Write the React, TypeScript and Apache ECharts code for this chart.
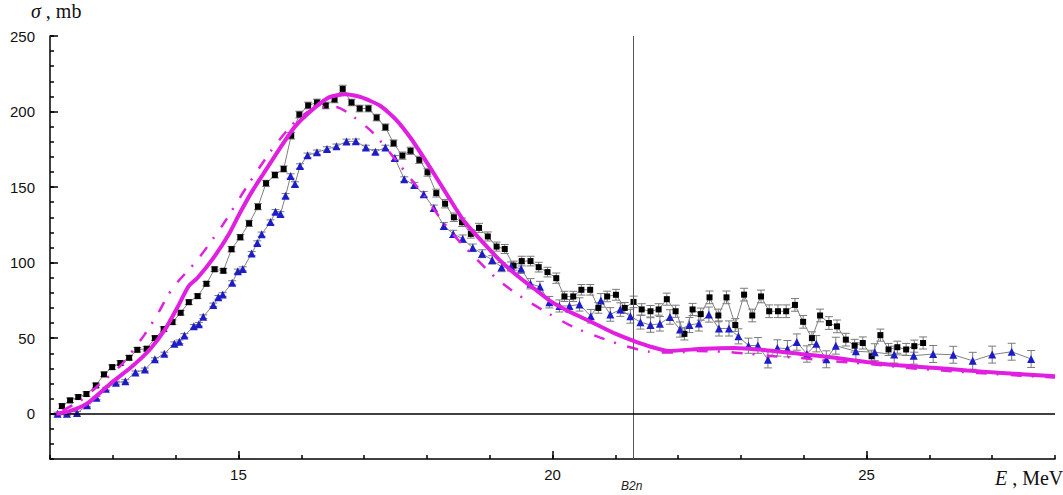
import React, { useEffect, useRef } from "react";
import * as echarts from "echarts";

// x tick labels (MeV) and y tick labels (mb)
const xTickLabels = [15, 20, 25];
const yTickLabels = [0, 50, 100, 150, 200, 250];
const B2N_ENERGY = 21.28;

// Black squares: [E (MeV), sigma (mb), error (mb)]
const blackSquares: [number, number, number][] = [
  [12.19, 5.0, 1.5], [12.32, 8.8, 1.5], [12.45, 11, 1.5], [12.58, 13, 1.5], [12.73, 18.7, 1.5],
  [12.86, 26, 1.5], [12.99, 30.8, 1.5], [13.12, 33.5, 1.5], [13.26, 37, 1.5], [13.39, 42.3, 1.5],
  [13.54, 43, 1.5], [13.67, 50, 1.5], [13.81, 56, 1.5], [13.95, 60.6, 1.5], [14.08, 66.8, 1.5],
  [14.21, 73.8, 1.5], [14.35, 77.8, 1.5], [14.49, 86, 1.5], [14.62, 95.6, 1.5], [14.76, 94.6, 1.5],
  [14.89, 108.9, 1.8], [15.03, 116.8, 1.8], [15.17, 126, 2], [15.31, 137, 2], [15.44, 152.5, 2],
  [15.58, 158, 2], [15.72, 162, 2], [15.84, 184, 2.2], [15.97, 198, 2.2], [16.11, 204, 2.2],
  [16.25, 206, 2.2], [16.39, 204, 2.2], [16.53, 208, 2.2], [16.66, 215, 2.4], [16.8, 206, 2.2],
  [16.93, 202, 2.2], [17.07, 202, 2.2], [17.2, 196, 2.2], [17.34, 189.6, 2.2], [17.47, 179, 2.2],
  [17.61, 170.8, 2.4], [17.74, 174, 2.4], [17.88, 168, 2.4], [18.01, 159.8, 2.6], [18.15, 146, 2.6],
  [18.29, 139, 2.8], [18.43, 130, 2.8], [18.56, 126.7, 2.8], [18.7, 119, 2.8], [18.83, 123, 3],
  [18.97, 117.3, 3], [19.11, 110.6, 3], [19.24, 109, 3], [19.38, 98, 3], [19.51, 101, 3.2],
  [19.65, 101, 3.2], [19.78, 97, 3.2], [19.92, 93.7, 3.2], [20.06, 89.7, 3.4], [20.19, 77.6, 3.4],
  [20.33, 77.6, 3.4], [20.46, 82, 3.5], [20.6, 82, 3.5], [20.73, 70, 3.5], [20.87, 77.6, 3.5],
  [21.01, 78.7, 3.6], [21.15, 70, 3.6], [21.29, 74, 3.8], [21.42, 69, 3.8], [21.56, 67.8, 3.8],
  [21.69, 69, 3.8], [21.82, 75.8, 4], [21.96, 67.8, 4], [22.1, 52.8, 4], [22.23, 69, 4],
  [22.36, 65.9, 4], [22.5, 77, 4.2], [22.64, 65, 4.2], [22.77, 77, 4.2], [22.91, 58.7, 4.2],
  [23.05, 78.8, 4.2], [23.18, 65, 4.2], [23.32, 77.6, 4.2], [23.45, 67.8, 4.2], [23.59, 67.8, 4.2],
  [23.72, 67.8, 4.2], [23.86, 72, 4.2], [23.99, 60.8, 4.2], [24.13, 50, 4.2], [24.26, 65, 4.2],
  [24.4, 60, 4.2], [24.53, 57.8, 4.2], [24.67, 49, 4.2], [24.81, 45, 4.2], [24.94, 46.8, 4],
  [25.08, 38, 4], [25.22, 52, 4], [25.35, 42.5, 4], [25.49, 44, 4], [25.63, 42.5, 4],
  [25.76, 44.7, 4], [25.9, 46.8, 4],
];

// Blue triangles: [E (MeV), sigma (mb), error (mb)]
const blueTriangles: [number, number, number][] = [
  [12.12, 0, 1], [12.27, 0, 1], [12.43, 0.4, 1], [12.59, 5.5, 1], [12.74, 10.5, 1],
  [12.89, 16.5, 1], [13.05, 20.5, 1], [13.2, 21.5, 1], [13.36, 27.3, 1], [13.51, 29.2, 1],
  [13.67, 36, 1], [13.82, 39.7, 1], [13.98, 46.3, 1.2], [14.06, 47.6, 1.2], [14.14, 51.8, 1.2],
  [14.29, 57.8, 1.2], [14.37, 59.2, 1.2], [14.44, 64.2, 1.2], [14.6, 72, 1.2], [14.68, 77, 1.2],
  [14.75, 78.9, 1.2], [14.9, 86.6, 1.4], [14.99, 94.3, 1.4], [15.07, 95.8, 1.4], [15.21, 106, 1.4],
  [15.3, 113, 1.4], [15.37, 118.8, 1.4], [15.51, 126.8, 1.5], [15.59, 133.6, 1.5], [15.67, 132.2, 1.5],
  [15.75, 144.2, 1.5], [15.83, 157.3, 1.5], [15.9, 152, 1.5], [15.98, 163.9, 1.5], [16.1, 171, 1.5],
  [16.25, 173, 1.5], [16.41, 175.2, 1.5], [16.56, 177, 1.5], [16.72, 180.2, 1.5], [16.87, 180.3, 1.5],
  [17.03, 176.2, 1.5], [17.18, 173.3, 1.5], [17.34, 176.2, 1.5], [17.49, 169.2, 1.6], [17.64, 155.2, 1.6],
  [17.8, 151.3, 1.8], [17.95, 145.3, 1.8], [18.11, 136.1, 2], [18.27, 124.3, 2.2], [18.42, 119, 2.4],
  [18.57, 115.8, 2.5], [18.73, 109.8, 2.5], [18.88, 105.9, 2.6], [19.04, 101.8, 2.8], [19.19, 97, 3],
  [19.34, 97.4, 3], [19.5, 96, 3.2], [19.65, 86, 3.4], [19.8, 84, 3.6], [19.95, 73.8, 3.8],
  [20.11, 71.3, 4], [20.27, 71.3, 4.2], [20.43, 72.3, 4.4], [20.61, 64.5, 4.5], [20.77, 75, 4.5],
  [20.92, 65.7, 4.5], [21.08, 68.9, 4.5], [21.24, 64.5, 4.6], [21.4, 60.6, 4.6], [21.56, 58.7, 4.8],
  [21.71, 59.5, 4.8], [21.87, 64, 4.8], [22.03, 55.7, 5], [22.18, 58.7, 5], [22.33, 59.7, 5],
  [22.49, 65.6, 5], [22.65, 56.4, 5], [22.81, 56.4, 5], [22.96, 51.2, 5], [23.12, 45, 5],
  [23.27, 45.2, 5.2], [23.43, 35.7, 5.4], [23.58, 43.5, 5.4], [23.74, 43, 5.4], [23.89, 47.4, 5.4],
  [24.05, 39.5, 5.4], [24.2, 46.3, 5.4], [24.36, 36, 5.6], [24.51, 45, 5.6], [24.83, 41.3, 5.6],
  [25.13, 40.7, 5.6], [25.44, 39.1, 5.6], [25.75, 38.4, 5.6], [26.06, 39.5, 5.6], [26.38, 39, 5.6],
  [26.69, 35, 5.6], [27.0, 39.1, 5.6], [27.31, 41, 5.6], [27.62, 36.2, 5.6],
];

// Magenta solid curve: [E, sigma]
const solidCurve: [number, number][] = [
  [12.1, 0], [12.3, 1.5], [12.6, 7], [12.95, 19.5], [13.3, 31], [13.6, 43], [13.85, 57],
  [14.05, 72], [14.2, 84], [14.35, 90], [14.6, 103], [14.85, 119], [15.0, 131], [15.2, 146],
  [15.4, 159], [15.65, 175], [15.9, 190], [16.2, 202], [16.45, 209.5], [16.7, 211.5],
  [16.95, 209.5], [17.25, 204], [17.5, 195], [17.75, 182], [18.05, 163], [18.35, 143],
  [18.6, 127], [18.9, 113], [19.15, 102], [19.45, 91], [19.7, 83], [19.95, 75], [20.2, 69],
  [20.5, 63], [20.75, 58], [21.0, 53], [21.3, 48], [21.55, 44.5], [21.85, 41.5], [22.4, 43],
  [22.9, 43.5], [23.4, 42], [23.95, 39.5], [24.5, 37], [25.0, 34.2], [25.5, 32], [26.05, 30.4],
  [26.6, 28.6], [27.1, 27.1], [28.0, 24.8],
];

// Magenta dashed curve: [E, sigma]
const dashedCurve: [number, number][] = [
  [12.2, 2], [12.5, 9], [12.75, 18], [13.15, 33], [13.5, 52], [13.7, 65], [13.95, 83],
  [14.35, 102], [14.75, 125], [15.13, 150], [15.52, 174], [15.92, 194], [16.3, 203],
  [16.55, 203], [16.75, 199], [17.14, 186], [17.56, 165], [17.96, 144], [18.35, 122],
  [18.75, 104], [19.15, 88], [19.55, 76], [19.95, 66], [20.35, 57], [20.75, 50.5],
  [21.14, 45], [21.54, 41], [21.96, 40.5], [22.3, 41.5], [22.71, 41], [23.13, 39.7],
  [23.53, 38], [23.92, 37], [24.3, 35.3], [24.72, 34], [25.12, 32.6], [25.62, 30.4],
  [26.2, 28.6], [26.78, 26.9], [27.63, 24.7], [28.0, 24],
];

const MAGENTA = "#e01fe0";
const BLUE = "#1c1cc8";

function errorBarSeries(data: [number, number, number][]) {
  return {
    type: "custom",
    data,
    encode: { x: 0, y: 1 },
    z: 2,
    silent: true,
    renderItem: (_params: any, api: any) => {
      const x = api.value(0);
      const y = api.value(1);
      const e = api.value(2);
      const top = api.coord([x, y + e]);
      const bot = api.coord([x, y - e]);
      const hw = 4;
      const style = { stroke: "#7a7a7a", lineWidth: 1 };
      return {
        type: "group",
        children: [
          { type: "line", shape: { x1: top[0], y1: top[1], x2: bot[0], y2: bot[1] }, style },
          { type: "line", shape: { x1: top[0] - hw, y1: top[1], x2: top[0] + hw, y2: top[1] }, style },
          { type: "line", shape: { x1: bot[0] - hw, y1: bot[1], x2: bot[0] + hw, y2: bot[1] }, style },
        ],
      };
    },
  };
}

export default function App() {
  const ref = useRef<HTMLDivElement>(null);

  useEffect(() => {
    if (!ref.current) return;
    const chart = echarts.init(ref.current, undefined, { renderer: "svg" });
    const axisColor = "#000";
    const option: any = {
      animation: false,
      backgroundColor: "#ffffff",
      grid: { left: 50, right: 8, top: 36, bottom: 36, containLabel: false },
      xAxis: [
        {
          type: "value",
          min: 12,
          max: 28,
          interval: 1,
          position: "bottom",
          axisLine: { show: true, onZero: false, lineStyle: { color: axisColor, width: 1.5 } },
          axisTick: { show: true, inside: true, length: 4, lineStyle: { color: axisColor, width: 1.5 } },
          axisLabel: {
            formatter: (v: number) => (xTickLabels.includes(v) ? String(v) : ""),
            color: "#111",
            fontSize: 15,
            fontFamily: "Liberation Sans",
            margin: 8,
          },
          splitLine: { show: false },
        },
        {
          type: "value",
          min: 12,
          max: 28,
          position: "bottom",
          axisLine: { show: false, onZero: false },
          axisTick: {
            show: true,
            inside: true,
            length: 8,
            customValues: xTickLabels,
            lineStyle: { color: axisColor, width: 1.5 },
          },
          axisLabel: { show: false },
          splitLine: { show: false },
        },
      ],
      yAxis: [
        {
          type: "value",
          min: -30,
          max: 250,
          interval: 10,
          position: "left",
          axisLine: { show: true, onZero: false, lineStyle: { color: axisColor, width: 1.5 } },
          axisTick: { show: true, inside: true, length: 4, lineStyle: { color: axisColor, width: 1.5 } },
          axisLabel: {
            formatter: (v: number) => (yTickLabels.includes(v) ? String(v) : ""),
            color: "#111",
            fontSize: 15,
            fontFamily: "Liberation Sans",
            margin: 15,
          },
          splitLine: { show: false },
        },
        {
          type: "value",
          min: -30,
          max: 250,
          position: "left",
          axisLine: { show: false, onZero: false },
          axisTick: {
            show: true,
            inside: true,
            length: 8,
            customValues: yTickLabels,
            lineStyle: { color: axisColor, width: 1.5 },
          },
          axisLabel: { show: false },
          splitLine: { show: false },
        },
      ],
      series: [
        {
          type: "line",
          data: [],
          silent: true,
          markLine: {
            silent: true,
            symbol: ["none", "none"],
            label: { show: false },
            data: [
              { xAxis: B2N_ENERGY, lineStyle: { color: "#555", width: 1, type: "solid" } },
              { yAxis: 0, lineStyle: { color: "#000", width: 1.6, type: "solid" } },
            ],
          },
        },
        errorBarSeries(blackSquares),
        errorBarSeries(blueTriangles),
        {
          type: "line",
          data: blackSquares.map((d) => [d[0], d[1]]),
          symbol: "rect",
          symbolSize: 6,
          itemStyle: { color: "#000" },
          lineStyle: { color: "#808080", width: 1 },
          z: 3,
        },
        {
          type: "line",
          data: blueTriangles.map((d) => [d[0], d[1]]),
          symbol: "triangle",
          symbolSize: 8,
          itemStyle: { color: BLUE },
          lineStyle: { color: "#808080", width: 1 },
          z: 3,
        },
        {
          type: "line",
          data: dashedCurve,
          symbol: "none",
          smooth: 0.25,
          lineStyle: { color: MAGENTA, width: 2.5, type: [11, 10, 2, 12] },
          z: 4,
        },
        {
          type: "line",
          data: solidCurve,
          symbol: "none",
          smooth: 0.2,
          lineStyle: { color: MAGENTA, width: 4 },
          z: 5,
        },
      ],
      graphic: [
        {
          type: "text",
          left: 31,
          top: 1,
          style: {
            text: "{i|σ} , mb",
            rich: {
              i: { fontStyle: "italic", fontFamily: "Liberation Serif", fontSize: 20, fill: "#111" },
            },
            fontFamily: "Liberation Serif",
            fontSize: 20,
            fill: "#111",
          },
        },
        {
          type: "text",
          left: 995,
          top: 468,
          style: {
            text: "{i|E} , MeV",
            rich: {
              i: { fontStyle: "italic", fontFamily: "Liberation Serif", fontSize: 20, fill: "#111" },
            },
            fontFamily: "Liberation Serif",
            fontSize: 20,
            fill: "#111",
          },
        },
        {
          type: "text",
          left: 621,
          top: 480,
          style: {
            text: "B2n",
            fontStyle: "italic",
            fontFamily: "Liberation Sans",
            fontSize: 12,
            fill: "#222",
          },
        },
      ],
    };
    chart.setOption(option);
    return () => chart.dispose();
  }, []);

  return (
    <div
      ref={ref}
      style={{ position: "fixed", left: 0, top: 0, width: 1063, height: 495, background: "#fff" }}
    />
  );
}
